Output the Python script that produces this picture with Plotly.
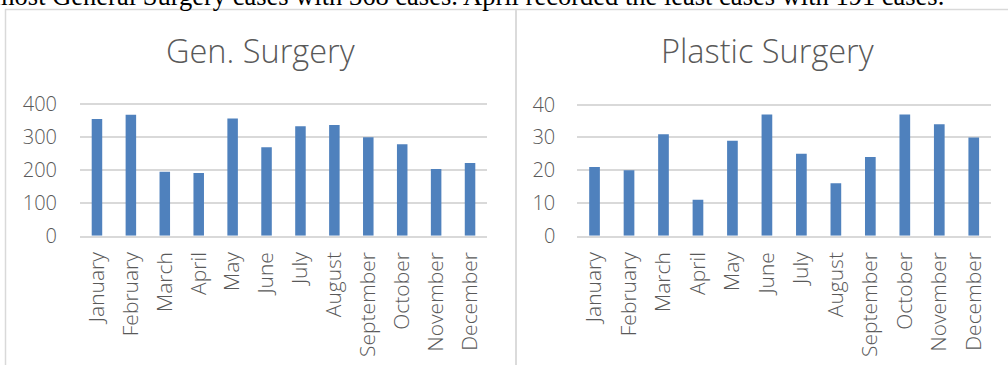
import plotly.graph_objects as go

months = ["January", "February", "March", "April", "May", "June", "July",
          "August", "September", "October", "November", "December"]
gen_surgery = [355, 368, 195, 191, 357, 269, 333, 337, 300, 278, 203, 221]
plastic_surgery = [21, 20, 31, 11, 29, 37, 25, 16, 24, 37, 34, 30]
gen_ticks = [0, 100, 200, 300, 400]
plastic_ticks = [0, 10, 20, 30, 40]
top_text = "most General Surgery cases with 368 cases. April recorded the least cases with 191 cases."

W, H = 1008, 365
BAR = "#4F81BD"
GRID = "#D9D9D9"
TXT = "#595959"
FONT = "Open Sans"

def px(x):
    return x / W

def py(y):
    return 1 - y / H

fig = go.Figure()
fig.add_trace(go.Bar(x=months, y=gen_surgery, marker_color=BAR, xaxis="x", yaxis="y"))
fig.add_trace(go.Bar(x=months, y=plastic_surgery, marker_color=BAR, xaxis="x2", yaxis="y2"))

xfont = dict(family=FONT, size=21, color=TXT, weight=300)
yfont = dict(family=FONT, size=20, color=TXT, weight=300)

fig.update_layout(
    template="none",
    width=W, height=H,
    margin=dict(l=0, r=0, t=0, b=0, pad=0),
    paper_bgcolor="white", plot_bgcolor="white",
    showlegend=False,
    bargap=0.69,
    xaxis=dict(domain=[px(80), px(487)], anchor="y", tickangle=-90,
               showline=True, linecolor=GRID, linewidth=2, showgrid=False,
               ticks="", ticklabelstandoff=6, tickfont=xfont, automargin=False),
    yaxis=dict(domain=[py(235.7), py(97.7)], anchor="x", range=[0, 420],
               tickvals=gen_ticks, showgrid=True, gridcolor=GRID, gridwidth=2,
               zeroline=False, showline=False, ticks="", ticklabelstandoff=22,
               tickfont=yfont, automargin=False),
    xaxis2=dict(domain=[px(577.3), px(991)], anchor="y2", tickangle=-90,
                showline=True, linecolor=GRID, linewidth=2, showgrid=False,
                ticks="", ticklabelstandoff=6, tickfont=xfont, automargin=False),
    yaxis2=dict(domain=[py(235.7), py(98.1)], anchor="x2", range=[0, 42],
                tickvals=plastic_ticks, showgrid=True, gridcolor=GRID, gridwidth=2,
                zeroline=False, showline=False, ticks="", ticklabelstandoff=21,
                tickfont=yfont, automargin=False),
)

# Panel borders (chart areas), bottom continues beyond the picture
fig.add_shape(type="rect", xref="paper", yref="paper",
              x0=px(5.5), x1=px(516), y0=-0.2, y1=py(9.5),
              line=dict(color=GRID, width=1.5), fillcolor="rgba(0,0,0,0)")
fig.add_shape(type="rect", xref="paper", yref="paper",
              x0=px(516), x1=px(1019), y0=-0.2, y1=py(9.5),
              line=dict(color=GRID, width=1.5), fillcolor="rgba(0,0,0,0)")

# Titles
fig.add_annotation(text="Gen. Surgery", xref="paper", yref="paper",
                   x=px(260.5), y=py(50), xanchor="center", yanchor="middle",
                   showarrow=False, font=dict(family=FONT, size=32.5, color=TXT, weight=300))
fig.add_annotation(text="Plastic Surgery", xref="paper", yref="paper",
                   x=px(767), y=py(50), xanchor="center", yanchor="middle",
                   showarrow=False, font=dict(family=FONT, size=32.5, color=TXT, weight=300))

# Cut-off line of body text above the charts
fig.add_annotation(text=top_text, xref="paper", yref="paper",
                   x=px(-8), y=py(13), xanchor="left", yanchor="bottom",
                   showarrow=False, font=dict(family="Liberation Serif", size=26.5, color="black"))

fig.write_html("out.html")
